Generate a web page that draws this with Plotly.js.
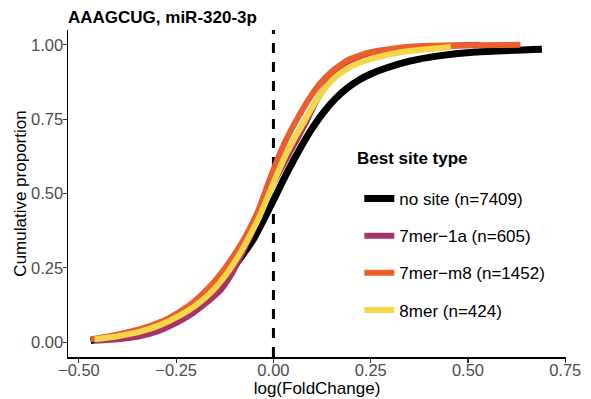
<!DOCTYPE html>
<html>
<head>
<meta charset="utf-8">
<script src="https://cdn.plot.ly/plotly-3.0.1.min.js"></script>
<style>html,body{margin:0;padding:0;background:#fff}#chart{width:591px;height:399px}</style>
</head>
<body>
<div id="chart"></div>
<script>
// ECDF readings (x = log fold change, y = cumulative proportion)
const noSiteX = [-0.47,-0.41,-0.335,-0.265,-0.195,-0.14,-0.103,-0.053,-0.022,0.004,0.037,0.07,0.10,0.13,0.16,0.19,0.22,0.25,0.29,0.35,0.42,0.52,0.69];
const noSiteY = [0.005,0.02,0.04,0.07,0.12,0.185,0.25,0.343,0.42,0.488,0.575,0.655,0.72,0.775,0.82,0.855,0.882,0.902,0.922,0.945,0.962,0.976,0.985];

const mer7a1X = [-0.46,-0.40,-0.35,-0.30,-0.26,-0.21,-0.17,-0.134,-0.105,-0.08,-0.055,-0.027,0.008,0.045,0.08,0.11,0.14,0.17,0.21,0.26,0.34,0.53];
const mer7a1Y = [0.005,0.01,0.018,0.035,0.058,0.095,0.135,0.178,0.235,0.30,0.37,0.46,0.555,0.645,0.73,0.81,0.87,0.912,0.946,0.971,0.99,1.0];

const mer7m8X = [-0.47,-0.42,-0.37,-0.32,-0.27,-0.22,-0.18,-0.14,-0.10,-0.07,-0.04,-0.02,0.0,0.02,0.04,0.065,0.09,0.12,0.15,0.19,0.24,0.31,0.40,0.635];
const mer7m8Y = [0.01,0.02,0.034,0.053,0.08,0.12,0.165,0.222,0.295,0.36,0.44,0.51,0.58,0.645,0.70,0.76,0.815,0.87,0.91,0.948,0.972,0.988,0.997,1.0];

const mer8X = [-0.46,-0.40,-0.34,-0.29,-0.24,-0.20,-0.16,-0.12,-0.09,-0.06,-0.035,-0.015,0.008,0.03,0.05,0.076,0.10,0.13,0.16,0.20,0.25,0.33,0.456];
const mer8Y = [0.01,0.02,0.036,0.058,0.09,0.123,0.168,0.23,0.29,0.36,0.425,0.488,0.56,0.625,0.675,0.735,0.79,0.85,0.893,0.928,0.953,0.976,0.993];

const seriesNames = ['no site (n=7409)','7mer\u22121a (n=605)','7mer\u2212m8 (n=1452)','8mer (n=424)'];
const seriesColors = ['#000000','#A8326B','#EA5F2B','#F4D648'];
const xTickVals = [-0.5,-0.25,0,0.25,0.5,0.75];
const xTickText = ['\u22120.50','\u22120.25','0.00','0.25','0.50','0.75'];
const yTickVals = [0,0.25,0.5,0.75,1];
const yTickText = ['0.00','0.25','0.50','0.75','1.00'];

const xs = [noSiteX, mer7a1X, mer7m8X, mer8X];
const ys = [noSiteY, mer7a1Y, mer7m8Y, mer8Y];
const widths = [7,6,6,6];

const traces = xs.map((x,i)=>({
  type:'scatter', mode:'lines', x:x, y:ys[i], name:seriesNames[i],
  legendgroup:'g'+i,
  line:{color:seriesColors[i], width:widths[i], shape:'spline', smoothing:0.5},
  hoverinfo:'skip'
}));

const font = 'Liberation Sans, Arial, sans-serif';
const layout = {
  width:591, height:399,
  margin:{l:68, r:25, t:30, b:42},
  paper_bgcolor:'#fff', plot_bgcolor:'#fff',
  font:{family:font, size:17, color:'#000'},
  title:{text:'<b>AAAGCUG, miR-320-3p</b>', font:{family:font, size:17, color:'#000'},
         xref:'paper', x:0, xanchor:'left', yref:'container', y:1-17/399, yanchor:'middle'},
  xaxis:{range:[-0.528,0.752], tickvals:xTickVals, ticktext:xTickText, showgrid:false, zeroline:false,
         showline:true, linecolor:'#000', linewidth:1.5, ticks:'outside', ticklen:4, tickcolor:'#333', tickwidth:1.2,
         tickfont:{size:16.5, color:'#4d4d4d'}, ticklabelstandoff:-6,
         title:{text:'log(FoldChange)', font:{size:17, color:'#000'}, standoff:0}, automargin:false},
  yaxis:{range:[-0.05,1.05], tickvals:yTickVals, ticktext:yTickText, showgrid:false, zeroline:false,
         showline:true, linecolor:'#000', linewidth:1.5, ticks:'outside', ticklen:4, tickcolor:'#333', tickwidth:1.2,
         tickfont:{size:16.5, color:'#4d4d4d'}, ticklabelstandoff:-4,
         title:{text:'Cumulative proportion', font:{size:17, color:'#000'}, standoff:0}, automargin:false},
  shapes:[{type:'line', xref:'x', yref:'paper', x0:0, x1:0, y0:0, y1:1, layer:'below',
           line:{color:'#000', width:3, dash:'10px,9px'}}],
  annotations:[{text:'<b>Best site type</b>', xref:'paper', yref:'paper', x:(355-68)/498, y:(357-158)/327,
                xanchor:'left', yanchor:'middle', showarrow:false, font:{size:17, color:'#000'}}],
  legend:{x:0.585, y:0.538, xanchor:'left', yanchor:'top', traceorder:'grouped', tracegroupgap:12,
          font:{size:17, color:'#000'}, bgcolor:'rgba(0,0,0,0)', itemwidth:30},
  showlegend:true
};

Plotly.newPlot('chart', traces, layout, {staticPlot:true, displayModeBar:false});
</script>
</body>
</html>
